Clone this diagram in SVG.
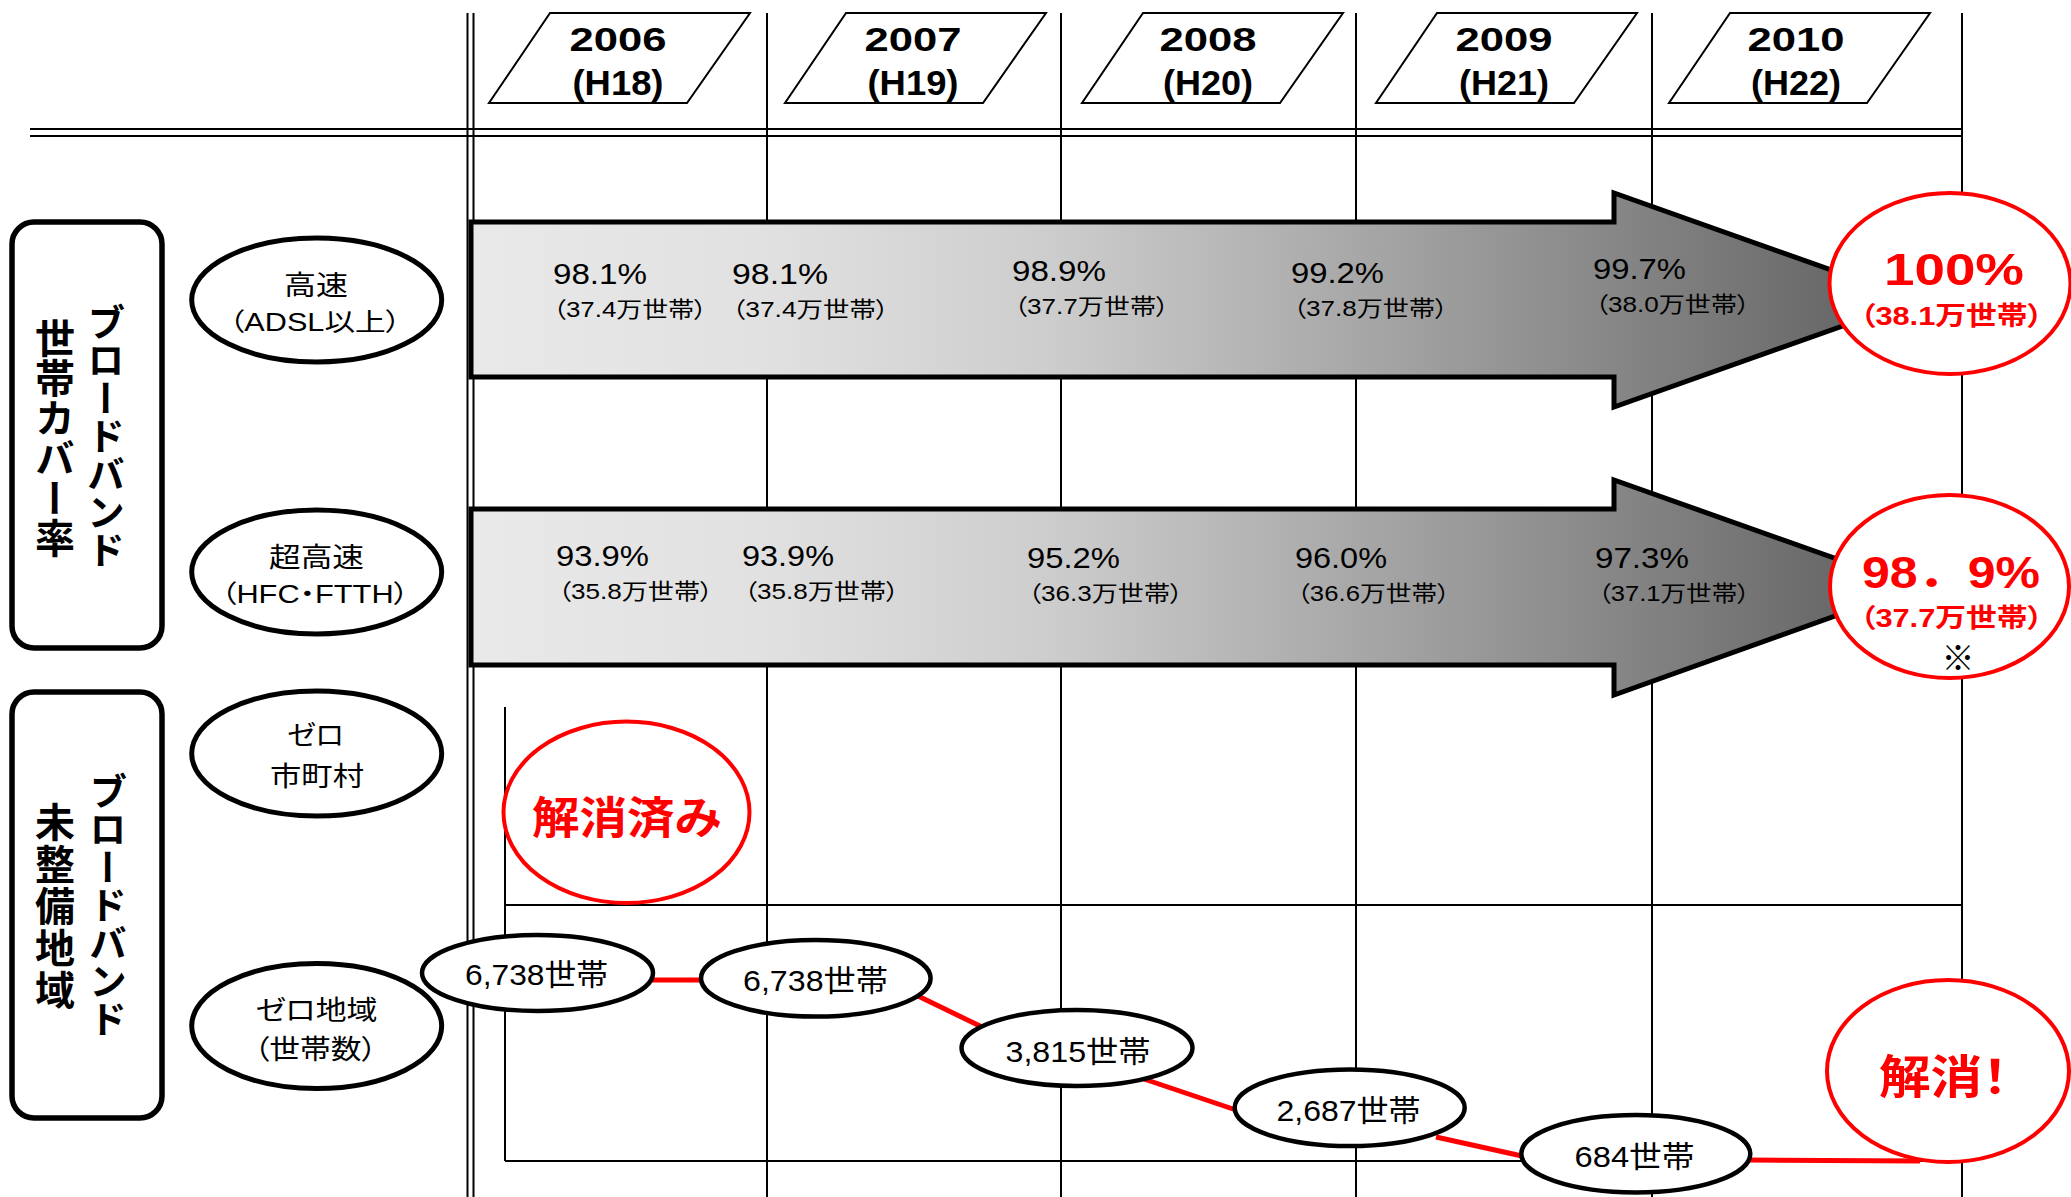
<svg xmlns="http://www.w3.org/2000/svg" width="2071" height="1197" viewBox="0 0 2071 1197">
<style>
.t{font-family:"Liberation Sans","Noto Sans CJK JP",sans-serif;fill:#000}
.j{font-family:"Noto Sans CJK JP","Liberation Sans",sans-serif;fill:#000}
.p{font-feature-settings:"palt"}
.b{font-weight:bold}
.r{fill:#ff0000}
.ln{stroke:#000;fill:none}
.yr{fill:#fff;stroke:#000;stroke-width:2}
.arr{stroke:#000;stroke-width:5;stroke-linejoin:miter}
.lab{fill:#fff;stroke:#000;stroke-width:5}
.box{fill:#fff;stroke:#000;stroke-width:5.5}
.red{fill:#fff;stroke:#ff0000;stroke-width:4}
.node{fill:#fff;stroke:#000;stroke-width:4.5}
.con{stroke:#ff0000;stroke-width:5;fill:none}
.vt{writing-mode:vertical-rl;font-weight:bold}
</style>
<defs>
<linearGradient id="g" gradientUnits="userSpaceOnUse" x1="471" y1="0" x2="1916" y2="0">
<stop offset="0" stop-color="#e9e9e9"/>
<stop offset="0.2" stop-color="#e1e1e1"/>
<stop offset="0.4" stop-color="#cdcdcd"/>
<stop offset="0.6" stop-color="#aaaaaa"/>
<stop offset="0.8" stop-color="#858585"/>
<stop offset="1" stop-color="#5e5e5e"/>
</linearGradient>
</defs>
<rect width="2071" height="1197" fill="#fff"/>

<g id="grid">
<line class="ln" x1="467.5" y1="13" x2="467.5" y2="1197" stroke-width="2"/>
<line class="ln" x1="473.5" y1="13" x2="473.5" y2="1197" stroke-width="2"/>
<line class="ln" x1="767" y1="13" x2="767" y2="1197" stroke-width="2"/>
<line class="ln" x1="1061" y1="13" x2="1061" y2="1197" stroke-width="2"/>
<line class="ln" x1="1356" y1="13" x2="1356" y2="1197" stroke-width="2"/>
<line class="ln" x1="1652" y1="13" x2="1652" y2="1197" stroke-width="2"/>
<line class="ln" x1="1962" y1="13" x2="1962" y2="1197" stroke-width="2"/>
<line class="ln" x1="30" y1="129" x2="1962" y2="129" stroke-width="2"/>
<line class="ln" x1="30" y1="136" x2="1962" y2="136" stroke-width="2"/>
<line class="ln" x1="505" y1="707" x2="505" y2="1161" stroke-width="2"/>
<line class="ln" x1="505" y1="905" x2="1962" y2="905" stroke-width="2"/>
<line class="ln" x1="505" y1="1161" x2="1962" y2="1161" stroke-width="2"/>
</g>

<g id="year-2006">
<polygon class="yr" points="550,13 750,13 687,103 489,103"/>
<text class="t b" x="618" y="51" font-size="34" text-anchor="middle" textLength="97" lengthAdjust="spacingAndGlyphs">2006</text>
<text class="t b" x="618" y="95" font-size="35" text-anchor="middle" textLength="91" lengthAdjust="spacingAndGlyphs">(H18)</text>
</g>
<g id="year-2007">
<polygon class="yr" points="846,13 1046,13 983,103 785,103"/>
<text class="t b" x="913" y="51" font-size="34" text-anchor="middle" textLength="97" lengthAdjust="spacingAndGlyphs">2007</text>
<text class="t b" x="913" y="95" font-size="35" text-anchor="middle" textLength="91" lengthAdjust="spacingAndGlyphs">(H19)</text>
</g>
<g id="year-2008">
<polygon class="yr" points="1143,13 1343,13 1280,103 1082,103"/>
<text class="t b" x="1208" y="51" font-size="34" text-anchor="middle" textLength="97" lengthAdjust="spacingAndGlyphs">2008</text>
<text class="t b" x="1208" y="95" font-size="35" text-anchor="middle" textLength="90" lengthAdjust="spacingAndGlyphs">(H20)</text>
</g>
<g id="year-2009">
<polygon class="yr" points="1437,13 1637,13 1574,103 1376,103"/>
<text class="t b" x="1504" y="51" font-size="34" text-anchor="middle" textLength="97" lengthAdjust="spacingAndGlyphs">2009</text>
<text class="t b" x="1504" y="95" font-size="35" text-anchor="middle" textLength="90" lengthAdjust="spacingAndGlyphs">(H21)</text>
</g>
<g id="year-2010">
<polygon class="yr" points="1730,13 1930,13 1867,103 1669,103"/>
<text class="t b" x="1796" y="51" font-size="34" text-anchor="middle" textLength="97" lengthAdjust="spacingAndGlyphs">2010</text>
<text class="t b" x="1796" y="95" font-size="35" text-anchor="middle" textLength="90" lengthAdjust="spacingAndGlyphs">(H22)</text>
</g>

<g id="group-coverage">
<rect class="box" x="12" y="222" width="150" height="426" rx="22" ry="22"/>
<text class="j vt" x="106" y="436" font-size="38" text-anchor="middle">ブロードバンド</text>
<text class="j vt" x="55" y="438" font-size="40" text-anchor="middle">世帯カバー率</text>
</g>
<g id="group-unserved">
<rect class="box" x="12" y="692" width="150" height="426" rx="22" ry="22"/>
<text class="j vt" x="108" y="905" font-size="38" text-anchor="middle">ブロードバンド</text>
<text class="j vt" x="55" y="907" font-size="40" letter-spacing="2" text-anchor="middle">未整備地域</text>
</g>

<g id="label-highspeed">
<ellipse class="lab" cx="316.7" cy="300" rx="125" ry="62"/>
<text class="t p" x="284" y="295" font-size="27" textLength="64" lengthAdjust="spacingAndGlyphs">高速</text>
<text class="t p" x="229" y="331" font-size="25" textLength="172" lengthAdjust="spacingAndGlyphs">（ADSL以上）</text>
</g>
<g id="label-ultra">
<ellipse class="lab" cx="316.7" cy="572" rx="125" ry="62"/>
<text class="t p" x="269" y="567" font-size="27" textLength="95" lengthAdjust="spacingAndGlyphs">超高速</text>
<text class="t p" x="221" y="603" font-size="25" textLength="188" lengthAdjust="spacingAndGlyphs">（HFC・FTTH）</text>
</g>
<g id="label-zero-muni">
<ellipse class="lab" cx="316.7" cy="753.5" rx="125" ry="62.5"/>
<text class="t p" x="287" y="745" font-size="27" textLength="57" lengthAdjust="spacingAndGlyphs">ゼロ</text>
<text class="t p" x="270" y="786" font-size="27" textLength="94" lengthAdjust="spacingAndGlyphs">市町村</text>
</g>
<g id="label-zero-area">
<ellipse class="lab" cx="316.7" cy="1026" rx="125" ry="62.5"/>
<text class="t p" x="255.5" y="1020" font-size="27" textLength="122" lengthAdjust="spacingAndGlyphs">ゼロ地域</text>
<text class="t p" x="254" y="1059" font-size="27" textLength="123" lengthAdjust="spacingAndGlyphs">（世帯数）</text>
</g>

<g id="arrow-highspeed">
<polygon class="arr" fill="url(#g)" points="471,222 1614,222 1614,193 1916,300 1614,407 1614,377 471,377"/>
<text class="t" x="553" y="284" font-size="29" textLength="94" lengthAdjust="spacingAndGlyphs">98.1%</text>
<text class="t p" x="553" y="317" font-size="22" textLength="154" lengthAdjust="spacingAndGlyphs">（37.4万世帯）</text>
<text class="t" x="732" y="284" font-size="29" textLength="96" lengthAdjust="spacingAndGlyphs">98.1%</text>
<text class="t p" x="732" y="317" font-size="22" textLength="157" lengthAdjust="spacingAndGlyphs">（37.4万世帯）</text>
<text class="t" x="1012" y="281" font-size="29" textLength="94" lengthAdjust="spacingAndGlyphs">98.9%</text>
<text class="t p" x="1014" y="314" font-size="22" textLength="155" lengthAdjust="spacingAndGlyphs">（37.7万世帯）</text>
<text class="t" x="1291" y="283" font-size="29" textLength="93" lengthAdjust="spacingAndGlyphs">99.2%</text>
<text class="t p" x="1293" y="316" font-size="22" textLength="155" lengthAdjust="spacingAndGlyphs">（37.8万世帯）</text>
<text class="t" x="1593" y="279" font-size="29" textLength="93" lengthAdjust="spacingAndGlyphs">99.7%</text>
<text class="t p" x="1595" y="312" font-size="22" textLength="155" lengthAdjust="spacingAndGlyphs">（38.0万世帯）</text>
</g>
<g id="arrow-ultra">
<polygon class="arr" fill="url(#g)" points="471,509 1614,509 1614,480 1916,587 1614,695 1614,665 471,665"/>
<text class="t" x="556" y="566" font-size="29" textLength="93" lengthAdjust="spacingAndGlyphs">93.9%</text>
<text class="t p" x="558" y="599" font-size="22" textLength="155" lengthAdjust="spacingAndGlyphs">（35.8万世帯）</text>
<text class="t" x="742" y="566" font-size="29" textLength="92" lengthAdjust="spacingAndGlyphs">93.9%</text>
<text class="t p" x="744" y="599" font-size="22" textLength="155" lengthAdjust="spacingAndGlyphs">（35.8万世帯）</text>
<text class="t" x="1027" y="568" font-size="29" textLength="93" lengthAdjust="spacingAndGlyphs">95.2%</text>
<text class="t p" x="1028" y="601" font-size="22" textLength="155" lengthAdjust="spacingAndGlyphs">（36.3万世帯）</text>
<text class="t" x="1295" y="568" font-size="29" textLength="92" lengthAdjust="spacingAndGlyphs">96.0%</text>
<text class="t p" x="1297" y="601" font-size="22" textLength="153" lengthAdjust="spacingAndGlyphs">（36.6万世帯）</text>
<text class="t" x="1595" y="568" font-size="29" textLength="94" lengthAdjust="spacingAndGlyphs">97.3%</text>
<text class="t p" x="1598" y="601" font-size="22" textLength="152" lengthAdjust="spacingAndGlyphs">（37.1万世帯）</text>
</g>

<g id="goal-highspeed">
<ellipse class="red" cx="1950" cy="283.5" rx="120.5" ry="90.5"/>
<text class="t b r" x="1884" y="285" font-size="45" textLength="140" lengthAdjust="spacingAndGlyphs">100%</text>
<text class="t b r p" x="1860" y="325" font-size="26" textLength="183" lengthAdjust="spacingAndGlyphs">（38.1万世帯）</text>
</g>
<g id="goal-ultra">
<ellipse class="red" cx="1949.5" cy="586.5" rx="119.5" ry="91.5"/>
<text class="t b r" x="1862" y="588" font-size="44" textLength="178" lengthAdjust="spacingAndGlyphs">98．9%</text>
<text class="t b r p" x="1860" y="627" font-size="26" textLength="183" lengthAdjust="spacingAndGlyphs">（37.7万世帯）</text>
<text class="j" x="1958" y="670" font-size="33" text-anchor="middle">※</text>
</g>
<g id="goal-zero-muni">
<ellipse class="red" cx="626.5" cy="812.3" rx="123" ry="90.7"/>
<text class="t b r p" x="532" y="834" font-size="44" textLength="189" lengthAdjust="spacingAndGlyphs">解消済み</text>
</g>

<g id="connectors">
<line class="con" x1="652" y1="980" x2="702" y2="980"/>
<line class="con" x1="918" y1="996" x2="982" y2="1027"/>
<line class="con" x1="1144" y1="1079" x2="1236" y2="1110"/>
<line class="con" x1="1436" y1="1137" x2="1522" y2="1156"/>
<line class="con" x1="1750" y1="1160" x2="1920" y2="1161" stroke-width="6"/>
</g>

<g id="node-2006">
<ellipse class="node" cx="537.5" cy="973" rx="115.5" ry="38"/>
<text class="t" x="465" y="985" font-size="30" textLength="143" lengthAdjust="spacingAndGlyphs">6,738世帯</text>
</g>
<g id="node-2007">
<ellipse class="node" cx="815.8" cy="978.3" rx="114.8" ry="38.3"/>
<text class="t" x="743" y="991" font-size="30" textLength="145" lengthAdjust="spacingAndGlyphs">6,738世帯</text>
</g>
<g id="node-2008">
<ellipse class="node" cx="1077" cy="1048" rx="115.5" ry="38"/>
<text class="t" x="1005.5" y="1062" font-size="30" textLength="145" lengthAdjust="spacingAndGlyphs">3,815世帯</text>
</g>
<g id="node-2009">
<ellipse class="node" cx="1349.7" cy="1107.7" rx="115" ry="38.3"/>
<text class="t" x="1276.5" y="1121" font-size="30" textLength="144" lengthAdjust="spacingAndGlyphs">2,687世帯</text>
</g>
<g id="node-2010">
<ellipse class="node" cx="1635.8" cy="1153.8" rx="114.5" ry="38.8"/>
<text class="t" x="1574.5" y="1167" font-size="30" textLength="120" lengthAdjust="spacingAndGlyphs">684世帯</text>
</g>
<g id="goal-zero-area">
<ellipse class="red" cx="1948" cy="1071" rx="121" ry="91"/>
<text class="t b r p" x="1879" y="1093" font-size="46" textLength="129" lengthAdjust="spacingAndGlyphs">解消！</text>
</g>
</svg>
